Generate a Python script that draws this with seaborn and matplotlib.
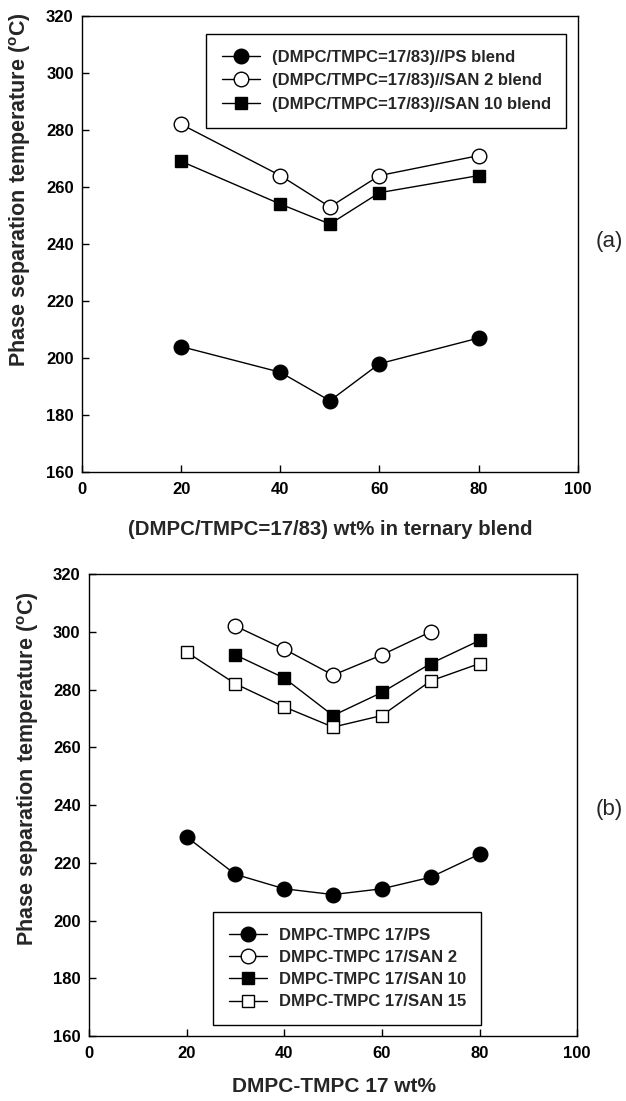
import pandas as pd
import seaborn as sns
import matplotlib.pyplot as plt

# panel (a): ternary blends with DMPC/TMPC=17/83
x_a = [20, 40, 50, 60, 80]
ps_a = [204, 195, 185, 198, 207]
san2_a = [282, 264, 253, 264, 271]
san10_a = [269, 254, 247, 258, 264]
labels_a = ['(DMPC/TMPC=17/83)//PS blend',
            '(DMPC/TMPC=17/83)//SAN 2 blend',
            '(DMPC/TMPC=17/83)//SAN 10 blend']

# panel (b): DMPC-TMPC 17 blends
x_ps_b = [20, 30, 40, 50, 60, 70, 80]
ps_b = [229, 216, 211, 209, 211, 215, 223]
x_san2_b = [30, 40, 50, 60, 70]
san2_b = [302, 294, 285, 292, 300]
x_san10_b = [30, 40, 50, 60, 70, 80]
san10_b = [292, 284, 271, 279, 289, 297]
x_san15_b = [20, 30, 40, 50, 60, 70, 80]
san15_b = [293, 282, 274, 267, 271, 283, 289]
labels_b = ['DMPC-TMPC 17/PS', 'DMPC-TMPC 17/SAN 2',
            'DMPC-TMPC 17/SAN 10', 'DMPC-TMPC 17/SAN 15']

x_ticks = [0, 20, 40, 60, 80, 100]
y_ticks = [160, 180, 200, 220, 240, 260, 280, 300, 320]

sns.set_style('ticks')
plt.rcParams['font.family'] = ['Liberation Sans', 'DejaVu Sans']
plt.rcParams['font.weight'] = 'bold'
plt.rcParams['mathtext.fontset'] = 'custom'
plt.rcParams['mathtext.bf'] = 'Liberation Sans:bold'
plt.rcParams['mathtext.rm'] = 'Liberation Sans'

fig = plt.figure(figsize=(6.26, 11.01), dpi=100)
ax1 = fig.add_axes([0.131, 0.5713, 0.792, 0.4142])
ax2 = fig.add_axes([0.142, 0.059, 0.780, 0.4196])

# marker style per series: (marker, facecolor, size)
styles = [('o', 'black', 10.5), ('o', 'white', 10.5), ('s', 'black', 9), ('s', 'white', 9)]


def draw(ax, series, labels):
    for (xs, ys), lab, (m, fc, ms) in zip(series, labels, styles):
        df = pd.DataFrame({'x': xs, 'y': ys})
        sns.lineplot(data=df, x='x', y='y', ax=ax, color='black', lw=1,
                     marker=m, markersize=ms, markerfacecolor=fc,
                     markeredgecolor='black', markeredgewidth=1, label=lab)


draw(ax1, [(x_a, ps_a), (x_a, san2_a), (x_a, san10_a)], labels_a)
draw(ax2, [(x_ps_b, ps_b), (x_san2_b, san2_b), (x_san10_b, san10_b),
           (x_san15_b, san15_b)], labels_b)

ylab = r'Phase separation temperature ($\mathbf{^o}$C)'
for ax in (ax1, ax2):
    ax.set_xlim(0, 100)
    ax.set_ylim(160, 320)
    ax.set_xticks(x_ticks)
    ax.set_yticks(y_ticks)
    ax.tick_params(direction='in', length=5, width=1, labelsize=12, colors='black')
    ax.tick_params(axis='x', pad=7.5)
    ax.tick_params(axis='y', pad=6)
    for s in ax.spines.values():
        s.set_linewidth(1)
        s.set_color('black')
    ax.set_ylabel(ylab, fontsize=15.5, fontweight='bold')

ax1.set_xlabel('(DMPC/TMPC=17/83) wt% in ternary blend', fontsize=14.7, fontweight='bold')
ax2.set_xlabel('DMPC-TMPC 17 wt%', fontsize=15, fontweight='bold')
ax1.xaxis.set_label_coords(0.5, -0.105)
ax2.xaxis.set_label_coords(0.501, -0.089)
ax1.yaxis.set_label_coords(-0.099, 0.62)
ax2.yaxis.set_label_coords(-0.098, 0.58)

leg_kw = dict(frameon=True, fancybox=False, edgecolor='black', framealpha=1,
              prop={'weight': 'bold', 'size': 12}, handlelength=2.3,
              borderpad=0.94, handletextpad=0.7, borderaxespad=0)
l1 = ax1.legend(loc='upper left', bbox_to_anchor=(0.25, 0.9605),
                labelspacing=0.52, **leg_kw)
l2 = ax2.legend(loc='lower left', bbox_to_anchor=(0.254, 0.0238),
                labelspacing=0.43, **leg_kw)
for l in (l1, l2):
    l.get_frame().set_linewidth(1)

fig.text(609 / 626, 1 - 242 / 1101, '(a)', fontsize=16, fontweight='normal',
         ha='center', va='center')
fig.text(609 / 626, 1 - 810 / 1101, '(b)', fontsize=16, fontweight='normal',
         ha='center', va='center')

fig.savefig('out.png', dpi=100)
